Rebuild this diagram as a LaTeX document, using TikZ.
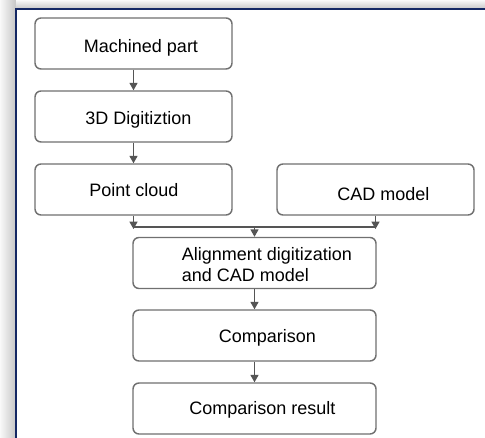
\documentclass[tikz,border=0pt]{standalone}
\usepackage{fontspec}
\setmainfont{Liberation Sans}
\usetikzlibrary{arrows.meta}

\definecolor{frameblue}{RGB}{20,40,100}
\definecolor{boxgray}{RGB}{112,112,112}
\definecolor{linegray}{RGB}{85,85,85}

\tikzset{every picture/.style={line width=0.75pt}}
\tikzset{
  stepbox/.style={draw=boxgray, line width=1.1pt, rounded corners=4.5pt, fill=white,
    minimum width=147.75pt, minimum height=38.25pt, inner sep=0pt},
  widebox/.style={stepbox, minimum width=182.25pt},
  boxtext/.style={inner sep=0.75pt, font=\fontsize{13.5}{16}\selectfont, align=left},
  flow/.style={draw=linegray, line width=0.9pt, -{Triangle[width=6pt,length=5.5pt]}},
  joinline/.style={draw=linegray, line width=0.9pt}
}

\begin{document}
\begin{tikzpicture}[x=0.75pt,y=0.75pt,yscale=-1,xscale=1]
    \useasboundingbox (0,0) rectangle (485,438);

    %Frame shadow
    \shade[left color=gray!5, right color=gray!45] (0,0) rectangle (16,438);
    \shade[top color=gray!5, bottom color=gray!45] (16,0) rectangle (485,9);
    \fill[white] (16,9) rectangle (485,438);
    %Frame border
    \draw[frameblue, line width=1.6pt] (16,438) -- (16,9) -- (485,9);

    %Rounded Rect
    \node[stepbox] (mach) at (133.5,43.5) {};
    %Rounded Rect
    \node[stepbox] (digi) at (133.5,116.5) {};
    %Rounded Rect
    \node[stepbox] (pc) at (133.5,189.5) {};
    %Rounded Rect
    \node[stepbox] (cad) at (375.5,189.5) {};
    %Rounded Rect
    \node[widebox] (align) at (254.5,263) {};
    %Rounded Rect
    \node[widebox] (comp) at (254.5,335.5) {};
    %Rounded Rect
    \node[widebox] (res) at (254.5,408.5) {};

    % Text Node
    \node[boxtext] (tmach) at (141,47.5) {Machined part};
    % Text Node
    \node[boxtext] (tdigi) at (138.5,120) {3D Digitiztion};
    % Text Node
    \node[boxtext] (tpc) at (134,190.5) {Point cloud};
    % Text Node
    \node[boxtext] (tcad) at (383.5,194.5) {CAD model};
    % Text Node
    \node[boxtext] (talign) at (267,264.5) {Alignment digitization\\and CAD model};
    % Text Node
    \node[boxtext] (tcomp) at (267.5,337.5) {Comparison};
    % Text Node
    \node[boxtext] (tres) at (262.5,409.5) {Comparison result};

    %Connectors
    \coordinate (join) at (254.5,227);
    \draw[flow] (mach) -- (digi);
    \draw[flow] (digi) -- (pc);
    \draw[flow] (pc.south) -- ([yshift=1.5]pc.south |- join);
    \draw[flow] (cad.south) -- ([yshift=1.5]cad.south |- join);
    \draw[joinline] (pc.south |- join) -- (cad.south |- join);
    \draw[flow] (join) -- (align);
    \draw[flow] (align) -- (comp);
    \draw[flow] (comp) -- (res);

\end{tikzpicture}
\end{document}
